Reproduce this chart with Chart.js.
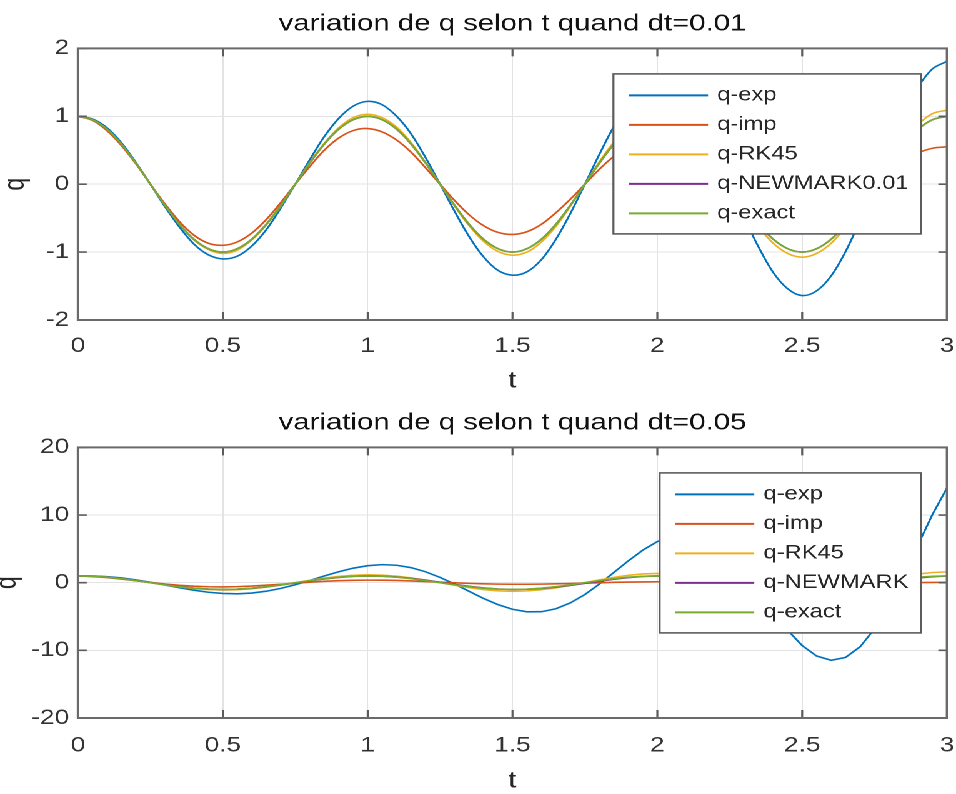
<!DOCTYPE html>
<html>
<head>
<meta charset="utf-8">
<script src="https://cdn.jsdelivr.net/npm/chart.js@4.4.1/dist/chart.umd.min.js"></script>
<style>
  html, body { margin: 0; padding: 0; background: #fff; overflow: hidden; }
  /* la figure d'origine est étirée horizontalement (~1.25) : on dessine à 765px puis on étire */
  #stage { position: absolute; left: 0; top: 0; width: 765px; height: 794px;
           transform: scaleX(1.24967); transform-origin: 0 0; }
  #stage canvas { position: absolute; left: 0; }
</style>
</head>
<body>
<div id="stage">
  <canvas id="c1" width="765" height="397" style="top:0"></canvas>
  <canvas id="c2" width="765" height="397" style="top:397px"></canvas>
</div>
<script>
// --- données (t de 0 à 3, pas de 0.05) ---
const tVals = [0,0.05,0.1,0.15,0.2,0.25,0.3,0.35,0.4,0.45,0.5,0.55,0.6,0.65,0.7,0.75,0.8,0.85,0.9,0.95,
  1,1.05,1.1,1.15,1.2,1.25,1.3,1.35,1.4,1.45,1.5,1.55,1.6,1.65,1.7,1.75,1.8,1.85,1.9,1.95,
  2,2.05,2.1,2.15,2.2,2.25,2.3,2.35,2.4,2.45,2.5,2.55,2.6,2.65,2.7,2.75,2.8,2.85,2.9,2.95,3];

const labels01 = ['q-exp', 'q-imp', 'q-RK45', 'q-NEWMARK0.01', 'q-exact'];
const labels05 = ['q-exp', 'q-imp', 'q-RK45', 'q-NEWMARK', 'q-exact'];

// dt = 0.01
const qExp01 = [1,0.96,0.83,0.61,0.32,0,-0.33,-0.63,-0.88,-1.04,
  -1.10,-1.06,-0.91,-0.67,-0.35,0,0.36,0.70,0.97,1.15,
  1.22,1.17,1.00,0.74,0.39,0,-0.40,-0.77,-1.07,-1.27,
  -1.34,-1.29,-1.11,-0.81,-0.43,0,0.44,0.85,1.18,1.40,
  1.48,1.43,1.22,0.90,0.48,0,-0.49,-0.93,-1.30,-1.54,
  -1.64,-1.57,-1.35,-0.99,-0.53,0,0.54,1.03,1.43,1.70,1.81];
const qImp01 = [1,0.94,0.79,0.57,0.30,0,-0.29,-0.55,-0.75,-0.87,
  -0.90,-0.85,-0.72,-0.52,-0.27,0,0.26,0.50,0.68,0.79,
  0.82,0.77,0.65,0.47,0.24,0,-0.24,-0.45,-0.61,-0.71,
  -0.74,-0.70,-0.59,-0.42,-0.22,0,0.22,0.41,0.55,0.65,
  0.67,0.63,0.53,0.38,0.20,0,-0.20,-0.37,-0.50,-0.58,
  -0.61,-0.57,-0.48,-0.35,-0.18,0,0.18,0.33,0.46,0.53,0.55];
const qRk01 = [1,0.95,0.81,0.59,0.31,0,-0.31,-0.59,-0.82,-0.96,
  -1.02,-0.97,-0.82,-0.60,-0.32,0,0.32,0.60,0.83,0.98,
  1.03,0.98,0.84,0.61,0.32,0,-0.32,-0.61,-0.84,-0.99,
  -1.045,-1.00,-0.85,-0.62,-0.32,0,0.33,0.62,0.86,1.01,
  1.06,1.01,0.86,0.63,0.33,0,-0.33,-0.63,-0.87,-1.02,
  -1.075,-1.02,-0.87,-0.63,-0.33,0,0.33,0.64,0.88,1.04,1.09];
const qNewmark01 = [1,0.95,0.81,0.59,0.31,0,-0.31,-0.59,-0.81,-0.95,
  -1,-0.95,-0.81,-0.59,-0.31,0,0.31,0.59,0.81,0.95,
  1,0.95,0.81,0.59,0.31,0,-0.31,-0.59,-0.81,-0.95,
  -1,-0.95,-0.81,-0.59,-0.31,0,0.31,0.59,0.81,0.95,
  1,0.95,0.81,0.59,0.31,0,-0.31,-0.59,-0.81,-0.95,
  -1,-0.95,-0.81,-0.59,-0.31,0,0.31,0.59,0.81,0.95,1];
const qExact = [1,0.95,0.81,0.59,0.31,0,-0.31,-0.59,-0.81,-0.95,
  -1,-0.95,-0.81,-0.59,-0.31,0,0.31,0.59,0.81,0.95,
  1,0.95,0.81,0.59,0.31,0,-0.31,-0.59,-0.81,-0.95,
  -1,-0.95,-0.81,-0.59,-0.31,0,0.31,0.59,0.81,0.95,
  1,0.95,0.81,0.59,0.31,0,-0.31,-0.59,-0.81,-0.95,
  -1,-0.95,-0.81,-0.59,-0.31,0,0.31,0.59,0.81,0.95,1];

// dt = 0.05
const qExp05 = [1,1,0.90,0.70,0.42,0.06,-0.34,-0.74,-1.11,-1.41,
  -1.59,-1.64,-1.53,-1.26,-0.84,-0.30,0.33,0.99,1.62,2.15,
  2.51,2.67,2.58,2.22,1.61,0.78,-0.20,-1.27,-2.32,-3.24,
  -3.93,-4.30,-4.29,-3.85,-2.98,-1.74,-0.20,1.51,3.23,4.81,
  6.08,6.86,7.05,6.56,5.37,3.54,1.17,-1.54,-4.37,-7.04,
  -9.29,-10.84,-11.47,-11.04,-9.47,-6.81,-3.22,1.05,5.63,10.11,14.03];
const qImp05 = [1,0.91,0.75,0.53,0.29,0.04,-0.19,-0.38,-0.52,-0.60,
  -0.62,-0.58,-0.50,-0.37,-0.23,-0.07,0.07,0.20,0.30,0.36,
  0.38,0.37,0.33,0.26,0.17,0.07,-0.02,-0.10,-0.17,-0.21,
  -0.23,-0.23,-0.21,-0.17,-0.12,-0.06,-0.01,0.05,0.09,0.12,
  0.14,0.15,0.14,0.12,0.09,0.05,0.02,-0.02,-0.05,-0.07,
  -0.08,-0.09,-0.09,-0.08,-0.06,-0.04,-0.02,0.01,0.02,0.04,0.05];
const qRk05 = [1,0.96,0.82,0.60,0.32,0,-0.32,-0.62,-0.86,-1.02,
  -1.08,-1.04,-0.89,-0.65,-0.35,0,0.35,0.67,0.93,1.10,
  1.17,1.12,0.96,0.71,0.37,0,-0.38,-0.73,-1.01,-1.20,
  -1.27,-1.21,-1.04,-0.76,-0.40,0,0.41,0.79,1.09,1.29,
  1.37,1.31,1.13,0.83,0.44,0,-0.44,-0.85,-1.18,-1.40,
  -1.48,-1.42,-1.22,-0.89,-0.47,0,0.48,0.92,1.28,1.51,1.60];
const qNewmark05 = [1,0.95,0.81,0.59,0.32,0.01,-0.29,-0.57,-0.80,-0.94,
  -1.00,-0.96,-0.83,-0.61,-0.34,-0.04,0.27,0.55,0.78,0.94,
  1.00,0.97,0.84,0.64,0.37,0.06,-0.25,-0.53,-0.77,-0.93,
  -1.00,-0.97,-0.85,-0.65,-0.39,-0.09,0.22,0.51,0.75,0.92,
  1.00,0.98,0.87,0.67,0.41,0.12,-0.20,-0.49,-0.73,-0.91,
  -0.99,-0.98,-0.88,-0.69,-0.44,-0.14,0.17,0.46,0.71,0.89,0.99];

const xTicks = { min: 0, max: 3, step: 0.5 };
const yTicks01 = { min: -2, max: 2, step: 1 };
const yTicks05 = { min: -20, max: 20, step: 10 };

// --- styles (couleurs MATLAB par défaut) ---
const COLORS = ['#0072BD', '#D95319', '#EDB120', '#7E2F8E', '#77AC30'];
const FONT = '"Liberation Sans", Arial, Helvetica, sans-serif';
Chart.defaults.font.family = FONT;

const toPts = (ys) => ys.map((y, i) => ({ x: tVals[i], y }));
const fmt = (v) => String(v);   // "1" et non "1.0"

// cadre + graduations intérieures façon MATLAB
const boxPlugin = {
  id: 'boxAxes',
  afterDatasetsDraw(chart) {
    const { ctx, chartArea: a, scales: { x, y } } = chart;
    ctx.save();
    ctx.strokeStyle = '#5c5c5c';
    ctx.lineWidth = 1.6;
    ctx.beginPath();
    x.ticks.forEach((t) => {
      const px = x.getPixelForValue(t.value);
      ctx.moveTo(px, a.bottom); ctx.lineTo(px, a.bottom - 8);
      ctx.moveTo(px, a.top); ctx.lineTo(px, a.top + 8);
    });
    y.ticks.forEach((t) => {
      const py = y.getPixelForValue(t.value);
      ctx.moveTo(a.left, py); ctx.lineTo(a.left + 7, py);
      ctx.moveTo(a.right, py); ctx.lineTo(a.right - 7, py);
    });
    ctx.stroke();
    ctx.strokeStyle = '#6a6a6a';
    ctx.lineWidth = 2;
    ctx.strokeRect(a.left, a.top, a.right - a.left, a.bottom - a.top);
    ctx.restore();
  }
};

// légende encadrée dans les axes (coin haut-droit)
const boxLegend = {
  id: 'boxLegend',
  afterDraw(chart, args, opts) {
    const { ctx, chartArea: a } = chart;
    const sets = chart.data.datasets;
    ctx.save();
    ctx.font = `19px ${FONT}`;
    const textW = Math.max(...sets.map((d) => ctx.measureText(d.label).width));
    const w = 83 + textW + 10, h = 160;
    const left = a.right - opts.right - w, top = a.top + opts.top;
    ctx.fillStyle = '#fff';
    ctx.fillRect(left, top, w, h);
    ctx.strokeStyle = '#5c5c5c';
    ctx.lineWidth = 1.6;
    ctx.strokeRect(left, top, w, h);
    ctx.textBaseline = 'middle';
    sets.forEach((d, i) => {
      const cy = top + 21.5 + i * 29.5;
      ctx.strokeStyle = d.borderColor;
      ctx.lineWidth = 2;
      ctx.beginPath(); ctx.moveTo(left + 12.5, cy); ctx.lineTo(left + 75.7, cy); ctx.stroke();
      ctx.fillStyle = '#262626';
      ctx.fillText(d.label, left + 83, cy);
    });
    ctx.restore();
  }
};

function makeChart(id, cfg) {
  const datasets = cfg.series.map((ys, i) => ({
    label: cfg.labels[i],
    data: toPts(ys),
    borderColor: COLORS[i],
    backgroundColor: COLORS[i],
    borderWidth: 1.6,
    pointRadius: 0,
    tension: cfg.tension,
    fill: false,
    order: 5 - i,   // q-exact dessiné au-dessus, comme dans MATLAB
  }));
  return new Chart(document.getElementById(id), {
    type: 'line',
    data: { datasets },
    options: {
      responsive: false, animation: false, devicePixelRatio: 2,
      layout: { padding: { left: 0, right: 7.2, top: 0, bottom: 0 } },
      plugins: {
        legend: { display: false },
        tooltip: { enabled: false },
        title: {
          display: true, text: cfg.title, fullSize: false, color: '#111',
          font: { size: 23.5, weight: 'normal', lineHeight: 1.2 },
          padding: { top: cfg.titleTop, bottom: 10.2 },
        },
        boxLegend: { right: 20.8, top: 25.5 },
      },
      scales: {
        x: {
          type: 'linear', min: xTicks.min, max: xTicks.max,
          ticks: { stepSize: xTicks.step, callback: fmt, color: '#333', font: { size: 21, lineHeight: 1.2 }, padding: cfg.xTickPad, maxRotation: 0 },
          grid: { color: '#e3e3e3', drawTicks: false },
          border: { display: false },
          title: { display: true, text: 't', color: '#262626', font: { size: 23, weight: 'normal', lineHeight: 1 }, padding: { top: 0, bottom: cfg.xTitlePad } },
          afterFit: (s) => { s.height = cfg.xHeight; s.paddingLeft = 0; s.paddingRight = 0; },
        },
        y: {
          type: 'linear', min: cfg.yTicks.min, max: cfg.yTicks.max,
          ticks: { stepSize: cfg.yTicks.step, callback: fmt, color: '#333', font: { size: 21, lineHeight: 1.2 }, padding: 7 },
          grid: { color: '#e3e3e3', drawTicks: false },
          border: { display: false },
          title: { display: true, text: 'q', color: '#262626', font: { size: 23, weight: 'normal', lineHeight: 1 }, padding: { top: cfg.yTitlePad, bottom: 0 } },
          afterFit: (s) => { s.width = 62.42; s.paddingTop = 0; s.paddingBottom = 0; },
        },
      },
    },
    plugins: [boxPlugin, boxLegend],
  });
}

makeChart('c1', {
  title: 'variation de q selon t quand dt=0.01',
  labels: labels01,
  series: [qExp01, qImp01, qRk01, qNewmark01, qExact],
  yTicks: yTicks01, tension: 0.35,
  titleTop: 10, xHeight: 77, xTickPad: 13.6, xTitlePad: 4.5, yTitlePad: 1.1,
});

makeChart('c2', {
  title: 'variation de q selon t quand dt=0.05',
  labels: labels05,
  series: [qExp05, qImp05, qRk05, qNewmark05, qExact],
  yTicks: yTicks05, tension: 0,
  titleTop: 12, xHeight: 76, xTickPad: 15.2, xTitlePad: 1.5, yTitlePad: -5.1,
});
</script>
</body>
</html>
